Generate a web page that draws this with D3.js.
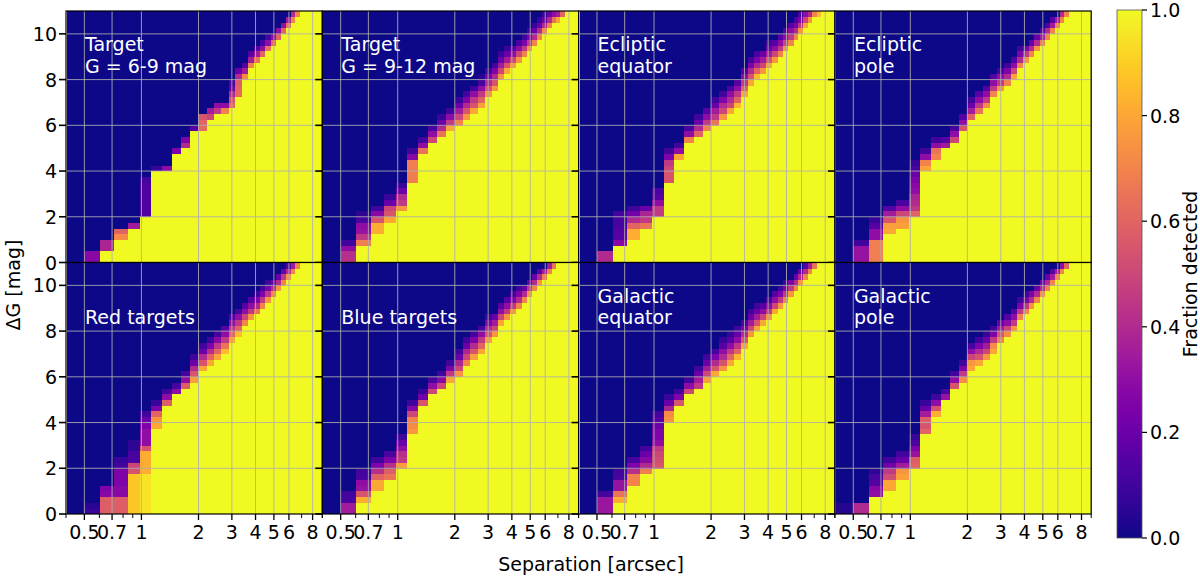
<!DOCTYPE html>
<html><head><meta charset="utf-8">
<script src="https://cdn.jsdelivr.net/npm/d3@7"></script>
<style>html,body{margin:0;padding:0;background:#fff;} svg{display:block;font-family:"DejaVu Sans",sans-serif;}</style>
</head><body><svg id="chart" width="1200" height="578"></svg>
<script>
// separation bin edges [arcsec]
const sepEdges = [0.405,0.5,0.605,0.72,0.845,0.98,1.125,1.28,1.445,1.62,1.805,2.0,2.205,2.42,2.645,2.88,3.125,3.38,3.645,3.92,4.205,4.5,4.805,5.12,5.445,5.78,6.125,6.48,6.845,7.22,7.605,8.0,8.405,8.82,9.245];
const dgBin = 0.25;          // ΔG bin width [mag]
const dgMax = 11;
const sepTicks = [0.5,0.7,1,2,3,4,5,6,8];
const sepMinorTicks = [0.4,0.6,0.8,0.9,7,9];
const dgTicks = [0,2,4,6,8,10];
const cbarTicks = [0,0.2,0.4,0.6,0.8,1.0];

// per separation bin: [ΔG up to which fraction = 1, fractions of the next bins upward (rest 0)]
const tgt69 = [[0,[]],[0,[0.28,0.28]],[0.5,[0.38,0.38]],[1,[0.72,0.6]],[1.5,[0.35]],[2,[0.13,0.13,0.13,0.13,0.13,0.13,0.1]],[4,[0.08]],[4,[0.3]],[4.75,[0.25]],[5,[0.4,0.25]],[5.75,[0.15]],[5.75,[0.62,0.6,0.55]],[6.25,[0.5,0.35]],[6.5,[0.45,0.3]],[6.5,[0.7,0.3]],[6.75,[0.62,0.55,0.4,0.2,0.12]],[7.25,[0.62,0.6,0.58,0.4,0.2]],[8,[0.72,0.35,0.15]],[8.5,[0.7,0.35,0.15]],[8.75,[0.65,0.35,0.15]],[9,[0.6,0.3,0.12]],[9.25,[0.65,0.3,0.12]],[9.5,[0.62,0.3]],[9.75,[0.6,0.3]],[10,[0.6,0.3]],[10.25,[0.65,0.35]],[10.5,[0.7,0.4]],[10.75,[0.7]],[11,[]],[11,[]],[11,[]],[11,[]],[11,[]],[11,[]]];
const tgt912 = [[0,[]],[0,[0.42,0.42,0.3,0.1]],[0.75,[0.68,0.45,0.32,0.3,0.12,0.06]],[1.25,[0.82,0.82,0.55,0.28,0.1]],[1.75,[0.8,0.55,0.5,0.2,0.08]],[2.25,[0.75,0.45,0.4,0.2,0.08]],[3.5,[0.68,0.68,0.68,0.68,0.28,0.1]],[4.75,[0.65,0.3,0.1]],[5.25,[0.5,0.3,0.12]],[5.5,[0.65,0.4,0.2,0.08]],[5.75,[0.8,0.45,0.3,0.1]],[6,[0.7,0.5,0.35,0.2,0.08]],[6.25,[0.75,0.55,0.4,0.25,0.1]],[6.5,[0.8,0.55,0.45,0.3,0.1]],[6.75,[0.78,0.6,0.45,0.3,0.12,0.05]],[7.25,[0.75,0.55,0.4,0.25,0.1]],[7.5,[0.75,0.55,0.4,0.25,0.1]],[8,[0.75,0.5,0.35,0.2,0.08]],[8.25,[0.8,0.55,0.35,0.2,0.08]],[8.5,[0.78,0.5,0.3,0.15]],[8.75,[0.75,0.5,0.3,0.12]],[9,[0.7,0.45,0.25,0.1]],[9.25,[0.75,0.45,0.25,0.1]],[9.5,[0.7,0.4,0.2,0.08]],[9.75,[0.7,0.4,0.2,0.08]],[10,[0.72,0.4,0.2,0.08]],[10.25,[0.7,0.4,0.2]],[10.5,[0.65,0.3]],[10.5,[0.8,0.35]],[10.75,[0.6]],[11,[]],[11,[]],[11,[]],[11,[]]];
const eclEq = [[0,[]],[0,[0.4,0.4]],[0.75,[0.28,0.15,0.15,0.12,0.12,0.1]],[1,[0.82,0.82,0.6,0.4,0.22,0.1]],[1.5,[0.65,0.45,0.38,0.2]],[2,[0.45,0.45,0.3,0.15,0.12]],[3.5,[0.55,0.55,0.5,0.45,0.25,0.1]],[4.5,[0.8,0.3,0.1]],[5.25,[0.7,0.3,0.12]],[5.5,[0.6,0.4,0.2,0.1]],[5.75,[0.7,0.45,0.3,0.15]],[6,[0.65,0.45,0.35,0.2,0.1]],[6.25,[0.75,0.5,0.4,0.25,0.1]],[6.5,[0.8,0.5,0.4,0.3,0.12]],[6.75,[0.85,0.6,0.45,0.3,0.15]],[7.25,[0.8,0.6,0.45,0.3,0.15]],[7.75,[0.8,0.55,0.4,0.25,0.1]],[8,[0.85,0.6,0.4,0.25,0.12]],[8.25,[0.75,0.5,0.35,0.2]],[8.5,[0.8,0.55,0.35,0.2,0.1]],[8.75,[0.75,0.5,0.3,0.15]],[9,[0.7,0.45,0.3,0.15]],[9.25,[0.75,0.5,0.3,0.15]],[9.5,[0.7,0.45,0.3,0.15]],[9.75,[0.7,0.4,0.25,0.12]],[10,[0.75,0.45,0.25,0.12]],[10.25,[0.8,0.5,0.3]],[10.5,[0.75,0.4,0.2]],[10.75,[0.7,0.35]],[10.75,[0.85]],[11,[]],[11,[]],[11,[]],[11,[]]];
const eclPole = [[0,[]],[0,[0.32,0.32,0.32,0.1]],[0,[0.68,0.68,0.68,0.68,0.3,0.3,0.15,0.08]],[1.25,[0.8,0.78,0.55,0.35,0.15]],[1.5,[0.78,0.75,0.5,0.3,0.12]],[2,[0.6,0.45,0.4,0.38,0.3,0.28,0.25,0.2,0.12,0.08]],[4,[0.8,0.7,0.3,0.1]],[4.5,[0.7,0.65,0.3,0.1]],[5,[0.35,0.15]],[5.25,[0.5,0.3,0.12]],[5.75,[0.55,0.3,0.15]],[6.25,[0.6,0.35,0.2,0.1]],[6.5,[0.65,0.45,0.3,0.15]],[6.75,[0.72,0.45,0.3,0.15]],[7.25,[0.7,0.45,0.3,0.15]],[7.5,[0.75,0.45,0.3,0.12]],[7.75,[0.7,0.4,0.25,0.1]],[8,[0.8,0.5,0.3,0.15]],[8.5,[0.7,0.4,0.25,0.1]],[8.75,[0.75,0.45,0.25]],[9,[0.7,0.4,0.2]],[9.25,[0.75,0.4,0.2]],[9.5,[0.7,0.35,0.15]],[9.75,[0.7,0.4,0.15]],[10,[0.7,0.35,0.15]],[10.25,[0.7,0.35]],[10.5,[0.7,0.4]],[10.75,[0.7]],[11,[]],[11,[]],[11,[]],[11,[]],[11,[]],[11,[]]];
const redT = [[0,[]],[0,[0.08,0.05]],[0,[0.58,0.58,0.58,0.28,0.25]],[0,[0.58,0.58,0.58,0.28,0.28,0.25,0.25,0.25,0.1,0.08]],[0,[0.88,0.88,0.88,0.88,0.88,0.88,0.88,0.55,0.5,0.12,0.12,0.06,0.06]],[0,[0.95,0.95,0.95,0.95,0.95,0.95,0.95,0.82,0.82,0.82,0.82,0.55,0.3,0.3,0.3,0.25,0.2,0.1]],[3.75,[0.8,0.75,0.6,0.25,0.08]],[4.75,[0.58,0.3,0.1]],[5.25,[0.3,0.12]],[5.5,[0.58,0.3,0.12]],[5.75,[0.78,0.55,0.4,0.2,0.1]],[6.25,[0.8,0.55,0.4,0.2,0.1]],[6.5,[0.8,0.6,0.42,0.25,0.1]],[6.75,[0.8,0.6,0.45,0.28,0.12]],[7,[0.85,0.65,0.45,0.3,0.15]],[7.5,[0.8,0.6,0.45,0.3,0.15]],[7.75,[0.85,0.6,0.45,0.3,0.12]],[8.25,[0.7,0.5,0.3,0.15]],[8.5,[0.75,0.45,0.3,0.15]],[8.75,[0.65,0.4,0.25,0.1]],[9,[0.7,0.45,0.25,0.1]],[9.25,[0.75,0.45,0.25,0.1]],[9.5,[0.7,0.4,0.2]],[9.75,[0.75,0.4,0.2]],[10,[0.7,0.45,0.2]],[10.25,[0.75,0.4,0.15]],[10.5,[0.7,0.35]],[10.75,[0.7]],[11,[]],[11,[]],[11,[]],[11,[]],[11,[]],[11,[]]];
const blueT = [[0,[]],[0,[0.35,0.35,0.12,0.1]],[0.5,[0.82,0.55,0.32,0.3,0.12,0.1]],[1,[0.8,0.8,0.6,0.42,0.25,0.1]],[1.5,[0.65,0.58,0.42,0.25,0.12]],[2,[0.78,0.45,0.42,0.3,0.2,0.1]],[3.5,[0.75,0.72,0.7,0.5,0.28,0.1]],[4.75,[0.55,0.22,0.08]],[5.25,[0.5,0.3,0.12]],[5.5,[0.5,0.28,0.1]],[5.75,[0.8,0.45,0.25,0.1]],[6,[0.75,0.5,0.38,0.2,0.1]],[6.5,[0.7,0.5,0.38,0.2,0.1]],[6.75,[0.78,0.55,0.4,0.25,0.1]],[7,[0.8,0.6,0.45,0.3,0.12]],[7.5,[0.78,0.55,0.4,0.25,0.1]],[7.75,[0.75,0.5,0.35,0.2]],[8.25,[0.8,0.5,0.3,0.15]],[8.5,[0.75,0.45,0.3,0.15]],[8.75,[0.75,0.45,0.25,0.12]],[9,[0.7,0.4,0.25,0.1]],[9.25,[0.7,0.4,0.2]],[9.5,[0.75,0.45,0.2]],[9.75,[0.7,0.4,0.2]],[10,[0.75,0.4,0.15]],[10.25,[0.7,0.35]],[10.5,[0.7,0.35]],[10.75,[0.65]],[11,[]],[11,[]],[11,[]],[11,[]],[11,[]],[11,[]]];
const galEq = [[0,[]],[0,[0.33,0.33,0.33,0.1]],[0.5,[0.82,0.65,0.32,0.32,0.12,0.1]],[1.25,[0.7,0.7,0.42,0.25,0.12]],[1.75,[0.68,0.4,0.28,0.2,0.1]],[2,[0.55,0.52,0.5,0.45,0.3,0.25,0.25,0.2,0.15,0.1]],[4,[0.75,0.72,0.38,0.2,0.08]],[4.75,[0.55,0.25,0.1]],[5.25,[0.5,0.3,0.1]],[5.5,[0.45,0.35,0.2,0.1]],[5.75,[0.78,0.5,0.35,0.2,0.1]],[6,[0.8,0.55,0.4,0.25,0.12]],[6.25,[0.75,0.55,0.4,0.3,0.15,0.08]],[6.5,[0.8,0.6,0.45,0.3,0.15,0.08]],[6.75,[0.85,0.6,0.45,0.3,0.2,0.1]],[7.25,[0.8,0.55,0.4,0.25,0.12]],[7.75,[0.75,0.5,0.35,0.2,0.1]],[8,[0.8,0.55,0.35,0.2,0.1]],[8.25,[0.8,0.5,0.3,0.15]],[8.5,[0.75,0.45,0.3,0.12]],[8.75,[0.8,0.5,0.3,0.15]],[9,[0.75,0.45,0.25,0.1]],[9.25,[0.7,0.45,0.25,0.1]],[9.5,[0.75,0.45,0.25]],[9.75,[0.7,0.4,0.2]],[10,[0.75,0.4,0.2]],[10.25,[0.7,0.4,0.15]],[10.5,[0.7,0.35]],[10.75,[0.65]],[11,[]],[11,[]],[11,[]],[11,[]],[11,[]]];
const galPole = [[0,[0.04,0.04]],[0,[0.4,0.4]],[0.75,[0.3,0.28,0.15,0.12,0.06]],[1,[0.8,0.8,0.52,0.45,0.22,0.1]],[1.5,[0.78,0.75,0.35,0.2,0.1]],[2,[0.6,0.58,0.32,0.25,0.12,0.08]],[3.5,[0.6,0.55,0.58,0.35,0.2,0.08]],[4.25,[0.82,0.55,0.3,0.1]],[5,[0.32,0.12]],[5.5,[0.55,0.3,0.1]],[5.75,[0.72,0.45,0.25,0.1]],[6.25,[0.8,0.75,0.5,0.3,0.12]],[6.5,[0.8,0.55,0.4,0.25,0.1]],[6.75,[0.75,0.5,0.35,0.2,0.08]],[7,[0.8,0.72,0.45,0.25,0.1]],[7.5,[0.7,0.55,0.35,0.2]],[7.75,[0.72,0.5,0.3,0.15]],[8,[0.75,0.45,0.3,0.15]],[8.5,[0.7,0.45,0.25,0.1]],[8.75,[0.7,0.45,0.25,0.1]],[9,[0.75,0.4,0.25]],[9.25,[0.7,0.4,0.2]],[9.5,[0.75,0.4,0.2]],[9.75,[0.7,0.4,0.2]],[10,[0.7,0.35,0.15]],[10.25,[0.7,0.35]],[10.5,[0.7,0.3]],[10.75,[0.6]],[11,[]],[11,[]],[11,[]],[11,[]],[11,[]],[11,[]]];

const panelData = [tgt69, tgt912, eclEq, eclPole, redT, blueT, galEq, galPole];
const panelTitles = [["Target","G = 6-9 mag"],["Target","G = 9-12 mag"],["Ecliptic","equator"],["Ecliptic","pole"],["Red targets"],["Blue targets"],["Galactic","equator"],["Galactic","pole"]];

const svg = d3.select("#chart");
const L = {left:66, top:11, pw:256.3, ph:251.5};
const FS = 19;
const nRows = Math.round(dgMax / dgBin);

function cellValue(col, r){
  const top = col[0], tr = col[1];
  const start = Math.round(top / dgBin);
  if (r < start) return 1;
  const i = r - start;
  return i < tr.length ? tr[i] : 0;
}

const defs = svg.append("defs");

panelData.forEach((data, p) => {
  const row = Math.floor(p / 4), colI = p % 4;
  const x0 = L.left + colI * L.pw, y0 = L.top + row * L.ph;
  const x = d3.scaleLog().domain([0.4, 9]).range([x0, x0 + L.pw]).clamp(true);
  const y = d3.scaleLinear().domain([0, dgMax]).range([y0 + L.ph, y0]);
  const g = svg.append("g");
  const cells = [];
  data.forEach((col, c) => {
    for (let r = 0; r < nRows; r++) {
      cells.push({c, r, v: cellValue(col, r)});
    }
  });
  g.append("g").attr("shape-rendering","crispEdges").selectAll("rect").data(cells).join("rect")
    .attr("x", d => x(sepEdges[d.c]))
    .attr("width", d => Math.max(0, x(sepEdges[d.c+1]) - x(sepEdges[d.c])) + 0.3)
    .attr("y", d => y((d.r + 1) * dgBin))
    .attr("height", d => y(d.r * dgBin) - y((d.r + 1) * dgBin) + 0.3)
    .attr("fill", d => d3.interpolatePlasma(d.v));
  // grid
  g.append("g").selectAll("line").data(sepTicks).join("line")
    .attr("x1", d => x(d)).attr("x2", d => x(d)).attr("y1", y0).attr("y2", y0 + L.ph)
    .attr("stroke", "#b0b0b0").attr("stroke-width", 1).attr("opacity", 0.85);
  g.append("g").selectAll("line").data(dgTicks.filter(d => d > 0)).join("line")
    .attr("x1", x0).attr("x2", x0 + L.pw).attr("y1", d => y(d)).attr("y2", d => y(d))
    .attr("stroke", "#b0b0b0").attr("stroke-width", 1).attr("opacity", 0.85);
  // titles
  const t = g.append("text").attr("fill", "#fff").attr("font-size", 19);
  const lines = panelTitles[p];
  const baseLines = lines.length === 2 ? [40, 61.5] : [61.5];
  lines.forEach((s, i) => t.append("tspan").attr("x", x0 + 19).attr("y", y0 + baseLines[i]).text(s));
  // frame
  g.append("rect").attr("x", x0).attr("y", y0).attr("width", L.pw).attr("height", L.ph)
    .attr("fill", "none").attr("stroke", "#000").attr("stroke-width", 1.2);
  // y ticks
  g.append("g").selectAll("line").data(dgTicks).join("line")
    .attr("x1", x0 - 7).attr("x2", x0).attr("y1", d => y(d)).attr("y2", d => y(d))
    .attr("stroke", "#000").attr("stroke-width", 1.6);
  if (colI === 0) {
    g.append("g").selectAll("text").data(dgTicks).join("text")
      .attr("x", x0 - 9).attr("y", d => y(d)).attr("text-anchor", "end")
      .attr("dominant-baseline", "central").attr("font-size", FS).attr("fill", "#000")
      .text(d => d);
  }
  if (row === 1) {
    const yb = y0 + L.ph;
    g.append("g").selectAll("line").data(sepTicks).join("line")
      .attr("x1", d => x(d)).attr("x2", d => x(d)).attr("y1", yb).attr("y2", yb + 6)
      .attr("stroke", "#000").attr("stroke-width", 1.3);
    g.append("g").selectAll("line").data(sepMinorTicks).join("line")
      .attr("x1", d => x(d)).attr("x2", d => x(d)).attr("y1", yb).attr("y2", yb + 4)
      .attr("stroke", "#000").attr("stroke-width", 1);
    g.append("g").selectAll("text").data(sepTicks).join("text")
      .attr("x", d => x(d)).attr("y", yb + 24.5).attr("text-anchor", "middle")
      .attr("font-size", FS).attr("fill", "#000").text(d => d3.format("")(d));
  }
});

// axis labels
svg.append("text").attr("x", 591).attr("y", 571).attr("text-anchor", "middle")
  .attr("font-size", FS).text("Separation [arcsec]");
svg.append("text").attr("transform", "translate(20,285) rotate(-90)").attr("text-anchor", "middle")
  .attr("font-size", FS).text("ΔG [mag]");

// colorbar
const cb = {x:1117, y:10, w:25, h:528};
const grad = defs.append("linearGradient").attr("id", "cbg").attr("x1", 0).attr("y1", 1).attr("x2", 0).attr("y2", 0);
d3.range(0, 1.0001, 0.02).forEach(t => grad.append("stop").attr("offset", t).attr("stop-color", d3.interpolatePlasma(t)));
const cy = d3.scaleLinear().domain([0, 1]).range([cb.y + cb.h, cb.y]);
svg.append("rect").attr("x", cb.x).attr("y", cb.y).attr("width", cb.w).attr("height", cb.h)
  .attr("fill", "url(#cbg)").attr("stroke", "#555").attr("stroke-width", 0.8);
svg.append("g").selectAll("line").data(cbarTicks).join("line")
  .attr("x1", cb.x + cb.w).attr("x2", cb.x + cb.w + 5).attr("y1", d => cy(d)).attr("y2", d => cy(d))
  .attr("stroke", "#000").attr("stroke-width", 1.2);
svg.append("g").selectAll("text").data(cbarTicks).join("text")
  .attr("x", cb.x + cb.w + 8).attr("y", d => cy(d)).attr("dominant-baseline", "central")
  .attr("font-size", FS).text(d => d3.format(".1f")(d));
svg.append("text").attr("transform", "translate(1197,274) rotate(-90)").attr("text-anchor", "middle")
  .attr("font-size", FS).text("Fraction detected");
</script></body></html>
